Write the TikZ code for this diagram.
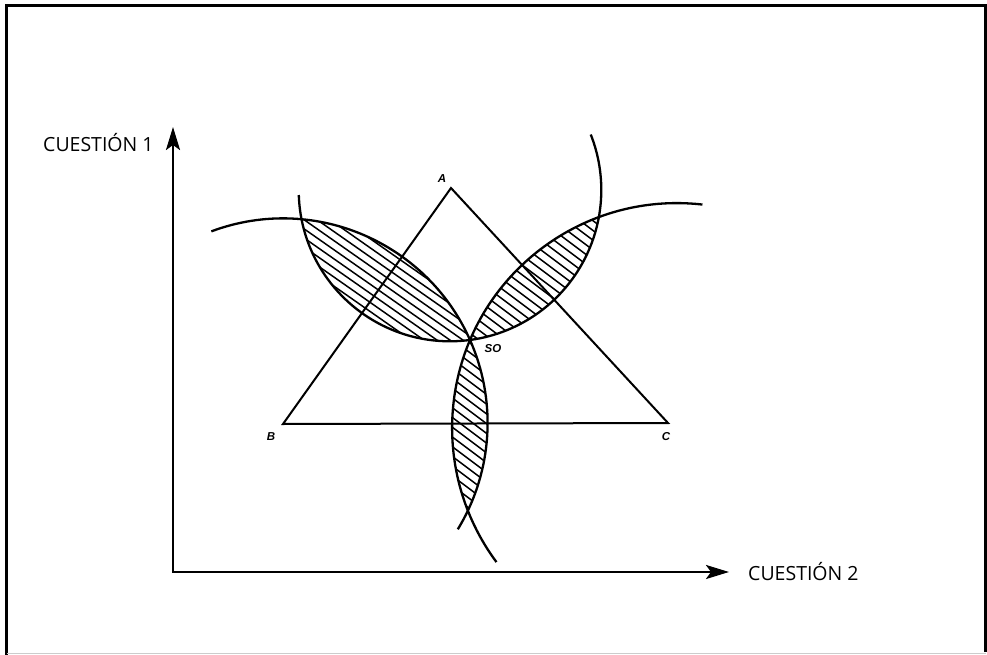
\documentclass[tikz,border=0pt]{standalone}
\usepackage{fontspec}
\newfontfamily\labfont{Open Sans}
\newfontfamily\ptfont{Liberation Sans}
\usetikzlibrary{arrows.meta}
\begin{document}
\begin{tikzpicture}[x=1pt,y=-1pt,
  circarc/.style={line width=2.3pt},
  tri/.style={line width=2pt, line join=miter},
  hatch/.style={line width=1.5pt},
  axis/.style={line width=2.4pt, line join=miter, {Stealth[length=23pt,width=14pt,inset=5pt]}-{Stealth[length=23pt,width=14pt,inset=5pt]}},
  qlabel/.style={font=\labfont\fontsize{19.5}{22}\selectfont, inner sep=0pt},
  ptlabel/.style={font=\ptfont\bfseries\itshape\fontsize{11.5}{13}\selectfont, inner sep=0pt}]
\useasboundingbox (0,0) rectangle (987,655);
% frame
\draw[line width=2.6pt] (985.5,652) -- (985.5,5.5) -- (6.5,5.5) -- (6.5,655);
\draw[black!20, line width=1.5pt] (6.5,653.5) -- (985.5,653.5);
% axes
\coordinate (O) at (173,572);
\coordinate (Ytip) at (173,127);
\coordinate (Xtip) at (729,572);
\draw[axis] (Ytip) -- (O) -- (Xtip);
\node[qlabel, anchor=base west] (q1) at (43,152) {CUESTIÓN 1};
\node[qlabel, anchor=base west] (q2) at (748,580.5) {CUESTIÓN 2};
% hatched lenses
\begin{scope}
\clip (283,423) circle[radius=204.6];
\clip (450,190) circle[radius=151.3];
\foreach \c in {-400,-387,...,800} \draw[hatch] (\c,100) -- ++(600,420);
\end{scope}
\begin{scope}
\clip (450,190) circle[radius=151.3];
\clip (677,428) circle[radius=224.9];
\foreach \c in {-400,-387,...,800} \draw[hatch] (\c,100) -- ++(600,450);
\end{scope}
\begin{scope}
\clip (283,423) circle[radius=204.6];
\clip (677,428) circle[radius=224.9];
\foreach \c in {-400,-387,...,800} \draw[hatch] (\c,100) -- ++(600,450);
\end{scope}
% triangle
\coordinate (A) at (451,188);
\coordinate (B) at (283,424);
\coordinate (C) at (668,423);
\draw[tri] (A) -- (B) -- (C) -- cycle;
% circle arcs
\draw[circarc] ([shift={(-110.5:204.6)}]283,423) arc[start angle=-110.5, end angle=31.3, radius=204.6];
\draw[circarc] ([shift={(178.1:151.3)}]450,190) arc[start angle=178.1, end angle=-21.5, radius=151.3];
\draw[circarc] ([shift={(-83.5:224.9)}]677,428) arc[start angle=-83.5, end angle=-216.6, radius=224.9];
% point labels
\coordinate (SO) at (470,340);
\node[ptlabel] (lA) at (442,179) {A};
\node[ptlabel] (lB) at (271,437) {B};
\node[ptlabel] (lC) at (666,437) {C};
\node[ptlabel] (lSO) at (493,349) {SO};
\end{tikzpicture}
\end{document}
